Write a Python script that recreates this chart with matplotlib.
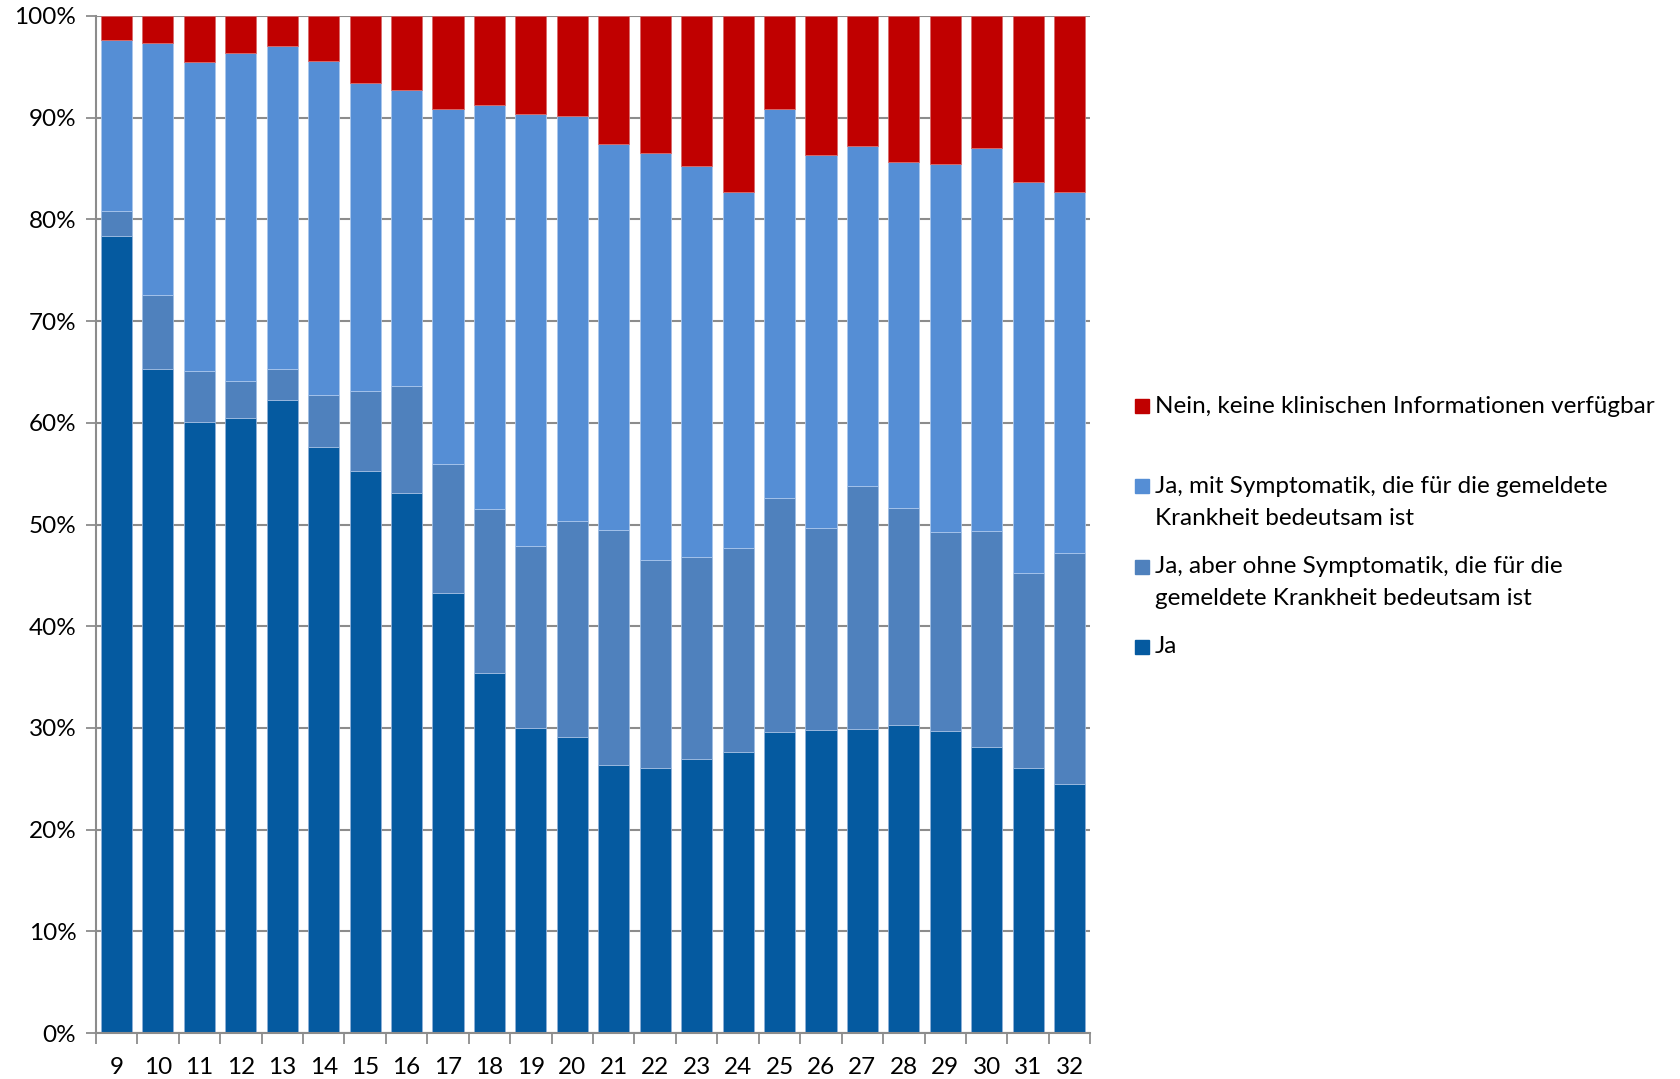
#Stacked percentage bars: clinical information per reporting week
import matplotlib
matplotlib.use("Agg")
import matplotlib.pyplot as plt
from matplotlib.patches import Rectangle
from matplotlib.ticker import FixedLocator, PercentFormatter
import numpy as np

plt.rcParams['font.family'] = ['Lato', 'DejaVu Sans']

weeks = [str(w) for w in range(9, 33)]

# shares in percent
ja = [78.4, 65.3, 60.1, 60.5, 62.2, 57.6, 55.3, 53.1, 43.3, 35.4, 30.0, 29.1,
      26.4, 26.1, 26.9, 27.6, 29.6, 29.8, 29.9, 30.3, 29.7, 28.1, 26.1, 24.5]
ja_ohne = [2.4, 7.3, 5.0, 3.6, 3.1, 5.1, 7.8, 10.5, 12.6, 16.1, 17.9, 21.2,
           23.1, 20.4, 19.9, 20.1, 23.0, 19.9, 23.9, 21.3, 19.6, 21.3, 19.1, 22.7]
ja_mit = [16.8, 24.7, 30.4, 32.3, 31.7, 32.9, 30.3, 29.1, 35.0, 39.7, 42.5, 39.9,
          37.9, 40.0, 38.4, 35.0, 38.3, 36.6, 33.4, 34.0, 36.1, 37.6, 38.5, 35.5]
nein = [2.4, 2.7, 4.5, 3.6, 3.0, 4.4, 6.6, 7.3, 9.1, 8.8, 9.6, 9.8,
        12.6, 13.5, 14.8, 17.3, 9.1, 13.7, 12.8, 14.4, 14.6, 13.0, 16.3, 17.3]

labels = ['Ja',
          'Ja, aber ohne Symptomatik, die für die\ngemeldete Krankheit bedeutsam ist',
          'Ja, mit Symptomatik, die für die gemeldete\nKrankheit bedeutsam ist',
          'Nein, keine klinischen Informationen verfügbar']
colors = ['#055AA0', '#4F81BD', '#558ED5', '#C00000']
edges = ['#8fb0d8', '#9fbde2', '#a9c6ec', '#d86a6a']

fig = plt.figure(figsize=(16.8, 10.79), dpi=100)
ax = fig.add_axes([0.057, 0.0426, 0.592, 0.9426])

x = np.arange(len(weeks))
bottom = np.zeros(len(weeks))
for vals, c, ec in zip([ja, ja_ohne, ja_mit, nein], colors, edges):
    ax.bar(x, vals, bottom=bottom, width=0.75, color=c, edgecolor=ec,
           linewidth=0.6, zorder=2)
    bottom += np.array(vals)

ax.set_xlim(-0.5, len(weeks) - 0.5)
ax.set_ylim(0, 100)
ax.set_yticks(np.arange(0, 101, 10))
ax.yaxis.set_major_formatter(PercentFormatter(decimals=0))
ax.yaxis.grid(True, color='#8c8c8c', linewidth=1.5, zorder=0)
ax.set_axisbelow(True)

# category boundary ticks, labels in the middle
ax.xaxis.set_major_locator(FixedLocator(np.arange(-0.5, len(weeks), 1)))
ax.xaxis.set_minor_locator(FixedLocator(x))
ax.set_xticklabels([], minor=False)
ax.set_xticklabels(weeks, minor=True)
ax.tick_params(axis='x', which='major', length=8, width=1.3, color='#8c8c8c')
ax.tick_params(axis='x', which='minor', length=0, pad=17, labelsize=17.5)
ax.tick_params(axis='y', length=7, width=1.3, color='#8c8c8c', labelsize=17.5, pad=7)

for s in ['top', 'right']:
    ax.spines[s].set_visible(False)
for s in ['left', 'bottom']:
    ax.spines[s].set_color('#8c8c8c')
    ax.spines[s].set_linewidth(1.5)

# legend, Excel style: entries on a fixed step, squares on the first line
leg_y = [0.6237, 0.5494, 0.4747, 0.4004]
line_step = 0.0298
for lab, c, yy in zip(labels[::-1], colors[::-1], leg_y):
    fig.patches.append(Rectangle((0.6755, yy - 0.0065), 0.0085, 0.013,
                                 transform=fig.transFigure, color=c))
    for i, part in enumerate(lab.split('\n')):
        fig.text(0.6875, yy - i * line_step, part, fontsize=17.5, va='center')

fig.savefig('out.png', dpi=100)
